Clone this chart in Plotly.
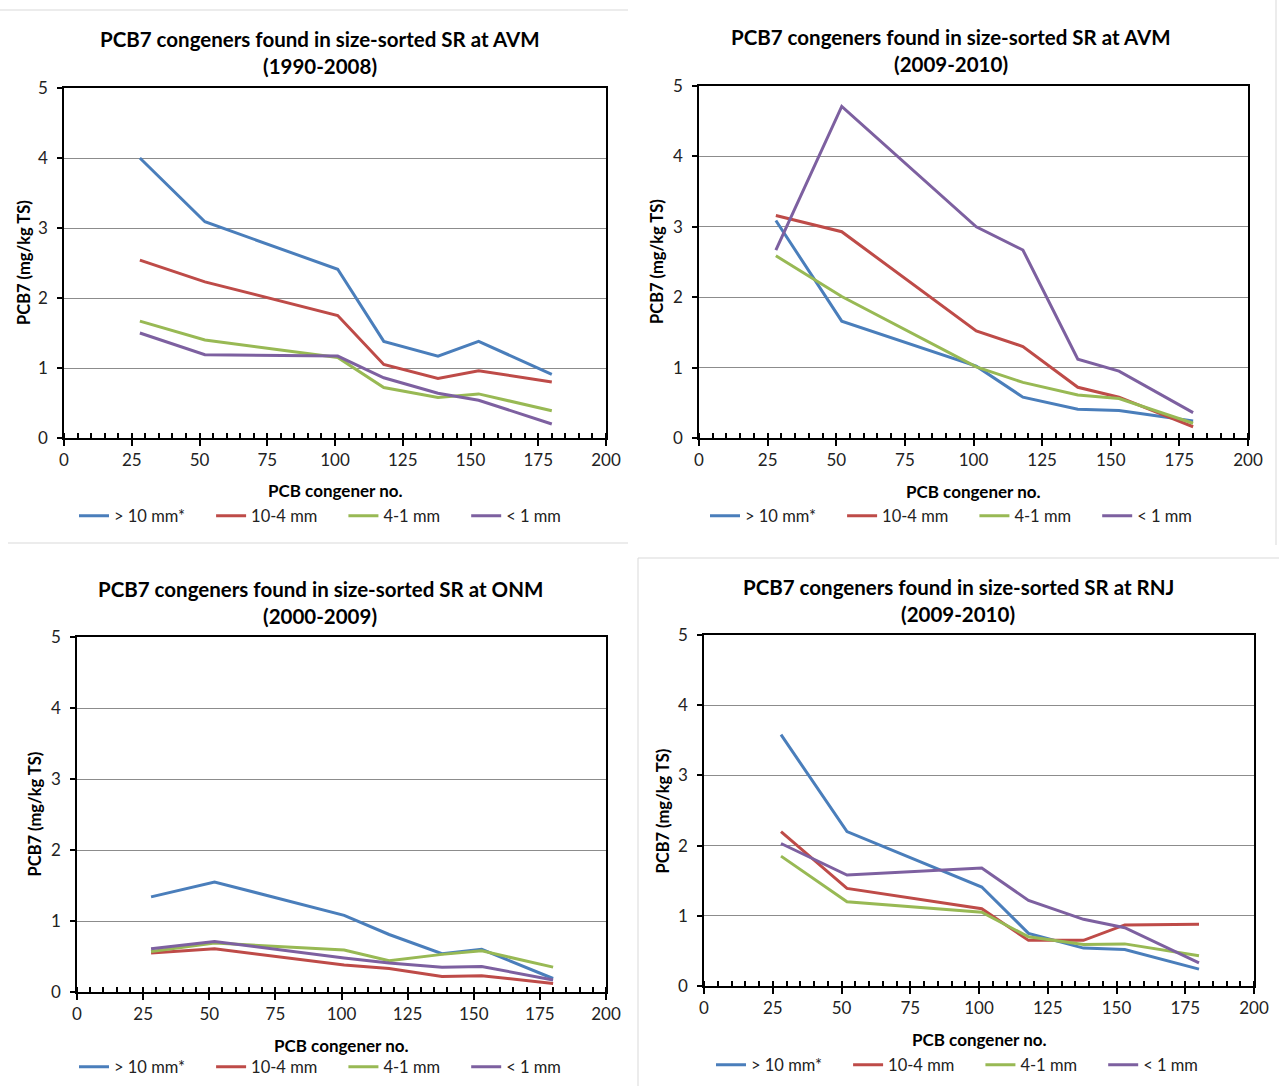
import plotly.graph_objects as go

congeners = [28, 52, 101, 118, 138, 153, 180]
series_names = ["> 10 mm*", "10-4 mm", "4-1 mm", "< 1 mm"]
colors = ["#4A7EBB", "#BE4B48", "#98B954", "#7D60A0"]

# Panel 1: AVM (1990-2008)
avm_9008_gt10 = [4.00, 3.09, 2.41, 1.38, 1.17, 1.38, 0.91]
avm_9008_10_4 = [2.54, 2.23, 1.75, 1.05, 0.85, 0.96, 0.80]
avm_9008_4_1 = [1.67, 1.40, 1.15, 0.72, 0.58, 0.63, 0.39]
avm_9008_lt1 = [1.50, 1.19, 1.17, 0.86, 0.64, 0.54, 0.20]

# Panel 2: AVM (2009-2010)
avm_0910_gt10 = [3.09, 1.66, 1.02, 0.58, 0.41, 0.39, 0.24]
avm_0910_10_4 = [3.16, 2.93, 1.52, 1.30, 0.72, 0.58, 0.16]
avm_0910_4_1 = [2.59, 2.01, 1.01, 0.79, 0.61, 0.56, 0.21]
avm_0910_lt1 = [2.67, 4.71, 3.00, 2.67, 1.12, 0.95, 0.36]

# Panel 3: ONM (2000-2009)
onm_gt10 = [1.34, 1.55, 1.08, 0.81, 0.54, 0.60, 0.19]
onm_10_4 = [0.55, 0.61, 0.38, 0.33, 0.22, 0.23, 0.12]
onm_4_1 = [0.57, 0.69, 0.59, 0.44, 0.53, 0.58, 0.35]
onm_lt1 = [0.61, 0.71, 0.48, 0.41, 0.35, 0.36, 0.17]

# Panel 4: RNJ (2009-2010)
rnj_gt10 = [3.58, 2.20, 1.41, 0.75, 0.54, 0.52, 0.24]
rnj_10_4 = [2.20, 1.39, 1.10, 0.65, 0.65, 0.87, 0.88]
rnj_4_1 = [1.85, 1.20, 1.05, 0.70, 0.59, 0.60, 0.43]
rnj_lt1 = [2.03, 1.58, 1.68, 1.22, 0.95, 0.83, 0.33]

titles = [
    ("PCB7 congeners found in size-sorted SR at AVM", "(1990-2008)"),
    ("PCB7 congeners found in size-sorted SR at AVM", "(2009-2010)"),
    ("PCB7 congeners found in size-sorted SR at ONM", "(2000-2009)"),
    ("PCB7 congeners found in size-sorted SR at RNJ", "(2009-2010)"),
]
panels_data = [
    [avm_9008_gt10, avm_9008_10_4, avm_9008_4_1, avm_9008_lt1],
    [avm_0910_gt10, avm_0910_10_4, avm_0910_4_1, avm_0910_lt1],
    [onm_gt10, onm_10_4, onm_4_1, onm_lt1],
    [rnj_gt10, rnj_10_4, rnj_4_1, rnj_lt1],
]

W, H = 1279, 1086
FONT = "Lato"

# pixel geometry: (left, right, top, bottom) of plot areas
boxes = [(64, 606, 88, 438), (699, 1248, 86, 438), (77, 606, 637, 992), (704, 1254, 635, 986)]
title_cx = [320, 951, 320, 958]
title_y = [(39, 66), (37, 64), (589, 616), (587, 614)]
xtitle_y = [490, 491, 1045, 1039]
ytitle_x = [24, 657, 34, 662]
legend_pos = [(74, 516), (705, 516), (74, 1067), (711, 1065)]
PAD = "\u00a0" * 5


def px(x):
    return x / W


def py(y):
    return 1 - y / H


fig = go.Figure()
annotations = []
layout = dict(width=W, height=H, margin=dict(l=0, r=0, t=0, b=0, pad=0, autoexpand=False),
              paper_bgcolor="white", plot_bgcolor="white",
              font=dict(family=FONT, color="#000000"))

for i in range(4):
    n = "" if i == 0 else str(i + 1)
    xa, ya = "x" + n, "y" + n
    lg = "legend" if i == 0 else "legend" + str(i + 1)
    for s in range(4):
        fig.add_trace(go.Scatter(x=congeners, y=panels_data[i][s], mode="lines",
                                 name=series_names[s] + PAD, line=dict(color=colors[s], width=3),
                                 xaxis=xa, yaxis=ya, legend=lg))
    l, r, t, b = boxes[i]
    layout["xaxis" + n] = dict(domain=[px(l), px(r)], range=[0, 200], dtick=25, tick0=0,
                               showgrid=False, zeroline=False, showline=True, linecolor="black",
                               linewidth=1.5, mirror=True, ticks="outside", ticklen=6,
                               tickcolor="black", tickwidth=1.5,
                               minor=dict(dtick=5, ticks="inside", ticklen=5, tickcolor="black", tickwidth=1.5, showgrid=False),
                               tickfont=dict(size=17, color="#222222"), anchor=ya)
    layout["yaxis" + n] = dict(domain=[py(b), py(t)], range=[0, 5], dtick=1, tick0=0,
                               showgrid=True, gridcolor="#8c8c8c", gridwidth=1, zeroline=False,
                               showline=True, linecolor="black", linewidth=1.5, mirror=True,
                               ticks="outside", ticklen=5, tickcolor="black", tickwidth=1.5,
                               ticklabelstandoff=6,
                               tickfont=dict(size=17, color="#222222"), anchor=xa)
    layout[lg] = dict(orientation="h", x=px(legend_pos[i][0]), y=py(legend_pos[i][1]),
                      xanchor="left", yanchor="middle", font=dict(size=16.5, color="#222222"),
                      bgcolor="rgba(0,0,0,0)", tracegroupgap=0)
    for k in range(2):
        annotations.append(dict(text="<b>" + titles[i][k] + "</b>", x=px(title_cx[i]), y=py(title_y[i][k]),
                                xref="paper", yref="paper", showarrow=False, xanchor="center",
                                yanchor="middle", font=dict(size=20.5, family=FONT, color="#000000")))
    annotations.append(dict(text="<b>PCB congener no.</b>", x=px((l + r) / 2), y=py(xtitle_y[i]),
                            xref="paper", yref="paper", showarrow=False, xanchor="center",
                            yanchor="middle", font=dict(size=17, family=FONT)))
    annotations.append(dict(text="<b>PCB7 (mg/kg TS)</b>", x=px(ytitle_x[i]), y=py((t + b) / 2),
                            xref="paper", yref="paper", showarrow=False, xanchor="center",
                            yanchor="middle", textangle=-90, font=dict(size=16.5, family=FONT)))

layout["annotations"] = annotations
sep = "#d9d9d9"


def hline(x0, x1, y):
    return dict(type="line", xref="paper", yref="paper", x0=px(x0), x1=px(x1), y0=py(y), y1=py(y),
                line=dict(color=sep, width=1))


def vline(x, y0, y1):
    return dict(type="line", xref="paper", yref="paper", x0=px(x), x1=px(x), y0=py(y0), y1=py(y1),
                line=dict(color=sep, width=1))


layout["shapes"] = [hline(0, 628, 10), hline(8, 628, 543), vline(1276, 0, 545),
                    vline(638, 558, 1086), hline(638, 1279, 558)]
fig.update_layout(**layout)
fig.write_html("out.html")
